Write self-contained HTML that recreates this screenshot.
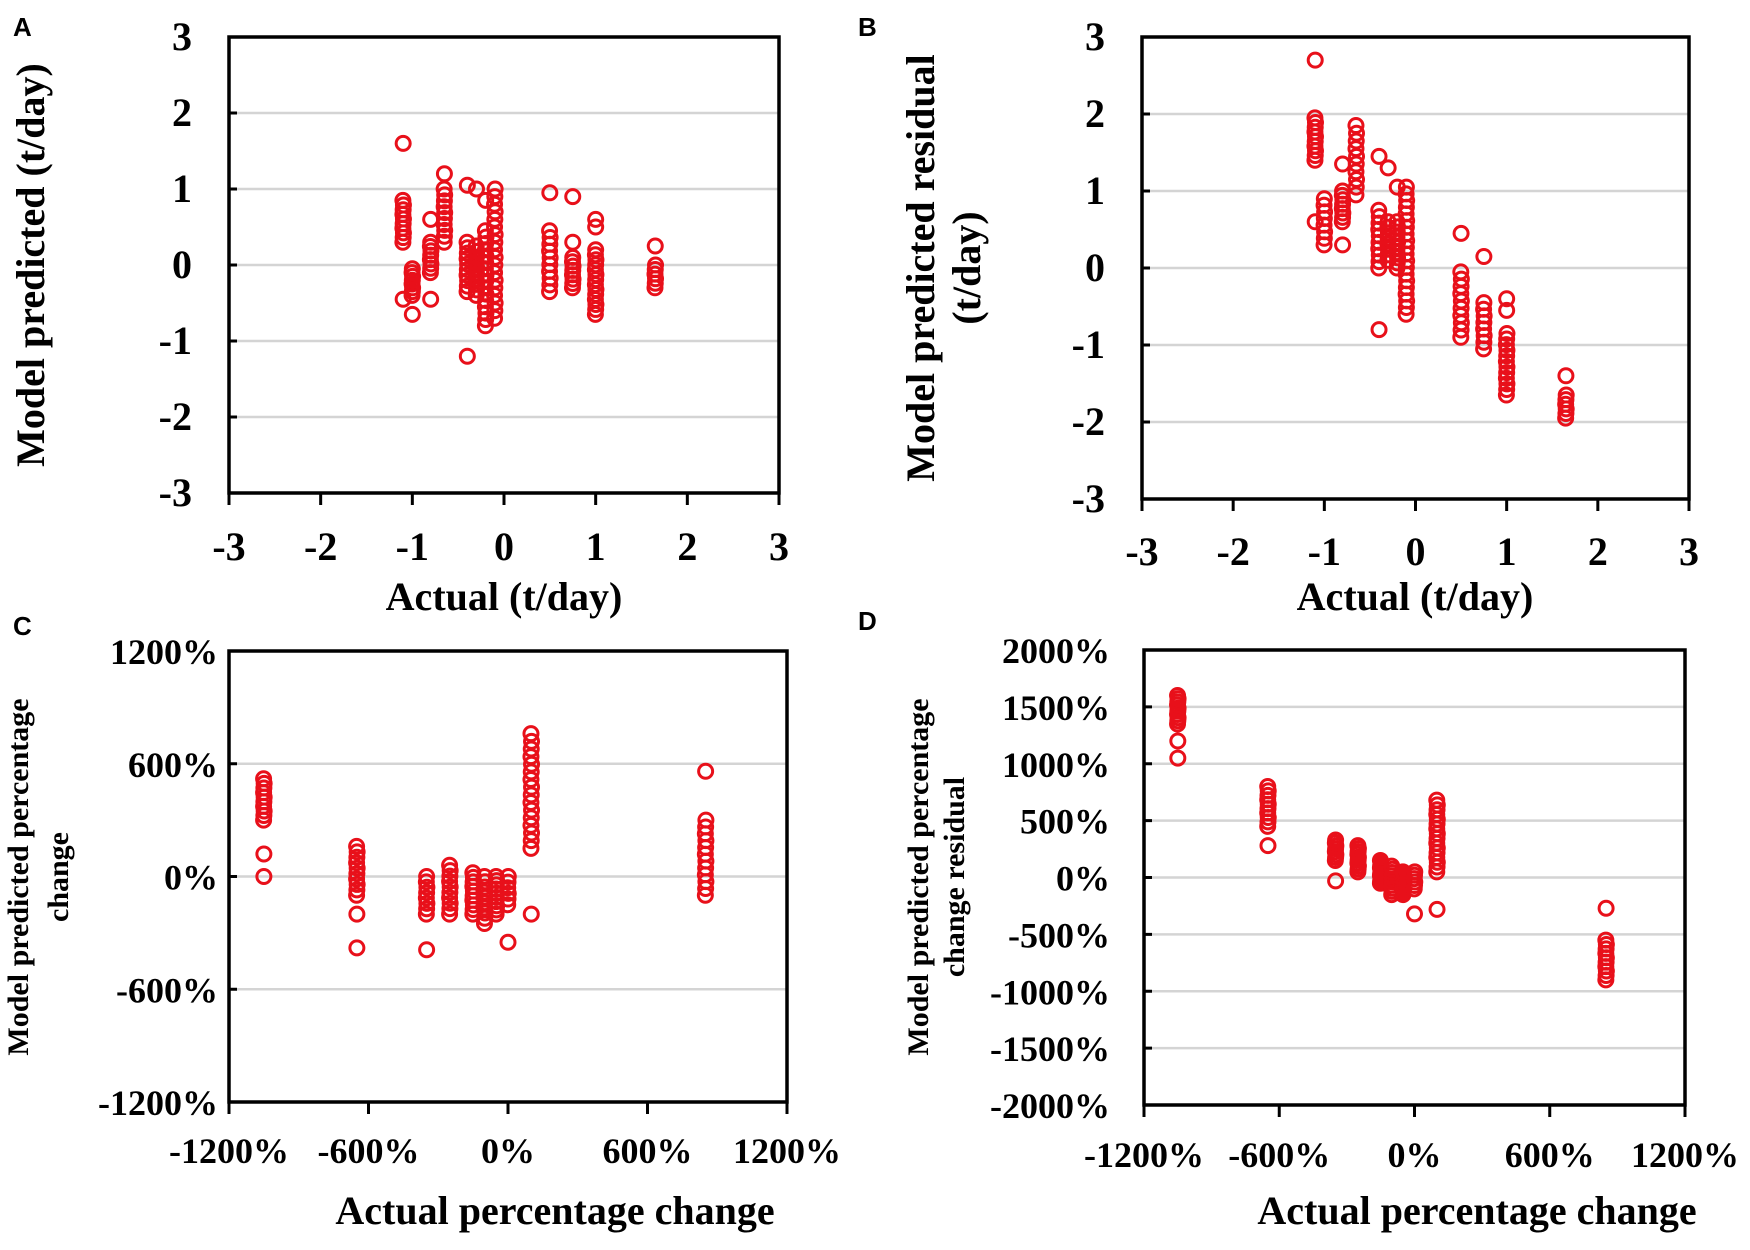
<!DOCTYPE html>
<html><head><meta charset="utf-8">
<style>
html,body{margin:0;padding:0;background:#fff;}
svg text{font-family:"Liberation Serif",serif;font-weight:bold;fill:#000;}
</style></head>
<body>
<svg id="s" width="1750" height="1245" xmlns="http://www.w3.org/2000/svg">
<text x="13" y="36" style="font-family:'Liberation Sans',sans-serif;font-size:26px">A</text>
<text x="858" y="36" style="font-family:'Liberation Sans',sans-serif;font-size:26px">B</text>
<text x="13" y="635" style="font-family:'Liberation Sans',sans-serif;font-size:26px">C</text>
<text x="858" y="630" style="font-family:'Liberation Sans',sans-serif;font-size:26px">D</text>

<text transform="translate(44,265) rotate(-90)" text-anchor="middle" font-size="40">Model predicted (t/day)</text>
<text transform="translate(934,268) rotate(-90)" text-anchor="middle" font-size="40">Model predicted residual</text>
<text transform="translate(980,268) rotate(-90)" text-anchor="middle" font-size="40">(t/day)</text>
<text x="504" y="610" text-anchor="middle" font-size="40">Actual (t/day)</text>
<text x="1415" y="610" text-anchor="middle" font-size="40">Actual (t/day)</text>

<text transform="translate(28,877) rotate(-90)" text-anchor="middle" font-size="30">Model predicted  percentage</text>
<text transform="translate(68,877) rotate(-90)" text-anchor="middle" font-size="30">change</text>
<text transform="translate(928,877) rotate(-90)" text-anchor="middle" font-size="30">Model predicted  percentage</text>
<text transform="translate(964,877) rotate(-90)" text-anchor="middle" font-size="30">change residual</text>
<text x="555" y="1224" text-anchor="middle" font-size="40">Actual  percentage change</text>
<text x="1477" y="1224" text-anchor="middle" font-size="40">Actual percentage change</text>
<g id="g"></g>
</svg>
<script>
var g=document.getElementById('g'),NS='http://www.w3.org/2000/svg';
function el(t,a){var e=document.createElementNS(NS,t);for(var k in a)e.setAttribute(k,a[k]);g.appendChild(e);return e;}
function tx(x,y,s,fs,anc){var e=el('text',{x:x,y:y,'font-size':fs,'text-anchor':anc});e.textContent=s;}
function panel(P){
 var X=function(v){return P.x0+(v-P.xmin)/(P.xmax-P.xmin)*(P.x1-P.x0);};
 var Y=function(v){return P.y1-(v-P.ymin)/(P.ymax-P.ymin)*(P.y1-P.y0);};
 P.yt.forEach(function(v){var y=Y(v);
  if(v!=P.ymin&&v!=P.ymax) el('line',{x1:P.x0,x2:P.x1,y1:y,y2:y,stroke:'#d4d4d4','stroke-width':2.5});
  el('line',{x1:P.x0,x2:P.x0+8,y1:y,y2:y,stroke:'#000','stroke-width':3});
  tx(P.ylx,y+13,P.yf(v),P.fs,'end');});
 P.xt.forEach(function(v){var x=X(v);
  el('line',{x1:x,x2:x,y1:P.y1,y2:P.y1+12,stroke:'#000','stroke-width':3});
  tx(x,P.xly,P.xf(v),P.fs,'middle');});
 el('rect',{x:P.x0,y:P.y0,width:P.x1-P.x0,height:P.y1-P.y0,fill:'none',stroke:'#000','stroke-width':3.5});
 P.d.forEach(function(c){var n=c[3];
  for(var i=0;i<n;i++){var v=c[1]+(c[2]-c[1])*i/(n-1);
   el('circle',{cx:X(c[0]+((i%3)-1)*0.01*(P.xmax-P.xmin)/6*0.3),cy:Y(v),r:7,fill:'none',stroke:'#e8101a','stroke-width':3});}
  (c[4]||[]).forEach(function(v){el('circle',{cx:X(c[0]),cy:Y(v),r:7,fill:'none',stroke:'#e8101a','stroke-width':3});});
 });
}
var t=[-3,-2,-1,0,1,2,3],f=function(v){return ''+v;},pc=function(v){return v+'%';};
panel({x0:229,x1:779,y0:37,y1:493,xmin:-3,xmax:3,ymin:-3,ymax:3,yt:t,xt:t,yf:f,xf:f,ylx:192,xly:560,fs:40,
d:[[-1.1,0.3,0.85,10,[1.6,-0.45]],[-1.0,-0.4,-0.05,8,[-0.65]],[-0.8,-0.1,0.3,8,[0.6,-0.45]],[-0.65,0.3,1.0,10,[1.2]],
[-0.4,-0.35,0.3,10,[1.05,-1.2]],[-0.3,-0.4,0.25,10,[1.0]],[-0.2,-0.8,0.45,16,[0.85]],[-0.1,-0.7,1.0,18],
[0.5,-0.35,0.45,10,[0.95]],[0.75,-0.3,0.1,8,[0.3,0.9]],[1.0,-0.65,0.2,14,[0.6,0.5]],[1.65,-0.3,0,6,[0.25]]]});
panel({x0:1142,x1:1689,y0:37,y1:499,xmin:-3,xmax:3,ymin:-3,ymax:3,yt:t,xt:t,yf:f,xf:f,ylx:1105,xly:565,fs:40,
d:[[-1.1,1.4,1.95,10,[2.7,0.6]],[-1.0,0.3,0.9,8],[-0.8,0.6,1.0,8,[0.3,1.35]],[-0.65,0.95,1.85,10],
[-0.4,0.0,0.75,10,[1.45,-0.8]],[-0.3,0.1,0.6,8,[1.3]],[-0.2,0,0.6,10,[1.05]],[-0.1,-0.6,1.05,20],
[0.5,-0.9,-0.05,10,[0.45]],[0.75,-1.05,-0.45,8,[0.15]],[1.0,-1.65,-0.85,12,[-0.4,-0.55]],[1.65,-1.95,-1.65,6,[-1.4]]]});
panel({x0:229,x1:787,y0:651,y1:1102,xmin:-1200,xmax:1200,ymin:-1200,ymax:1200,yt:[-1200,-600,0,600,1200],xt:[-1200,-600,0,600,1200],yf:pc,xf:pc,ylx:218,xly:1163,fs:36,
d:[[-1050,300,520,10,[120,0]],[-650,-100,160,10,[-200,-380]],[-350,-200,0,8,[-390]],[-250,-200,60,10],[-150,-200,20,10],
[-100,-250,0,10],[-50,-200,0,10],[0,-150,0,6,[-350]],[100,150,760,16,[-200]],[850,-100,300,12,[560]]]});
panel({x0:1144,x1:1685,y0:650,y1:1105,xmin:-1200,xmax:1200,ymin:-2000,ymax:2000,yt:[-2000,-1500,-1000,-500,0,500,1000,1500,2000],xt:[-1200,-600,0,600,1200],yf:pc,xf:pc,ylx:1110,xly:1167,fs:36,
d:[[-1050,1350,1600,10,[1200,1050]],[-650,450,800,10,[280]],[-350,150,330,8,[-30]],[-250,50,280,10],[-150,-50,150,10],
[-100,-150,100,10],[-50,-150,50,10],[0,-100,50,6,[-320]],[100,50,680,16,[-280]],[850,-900,-550,10,[-270]]]});
</script>
</body></html>
